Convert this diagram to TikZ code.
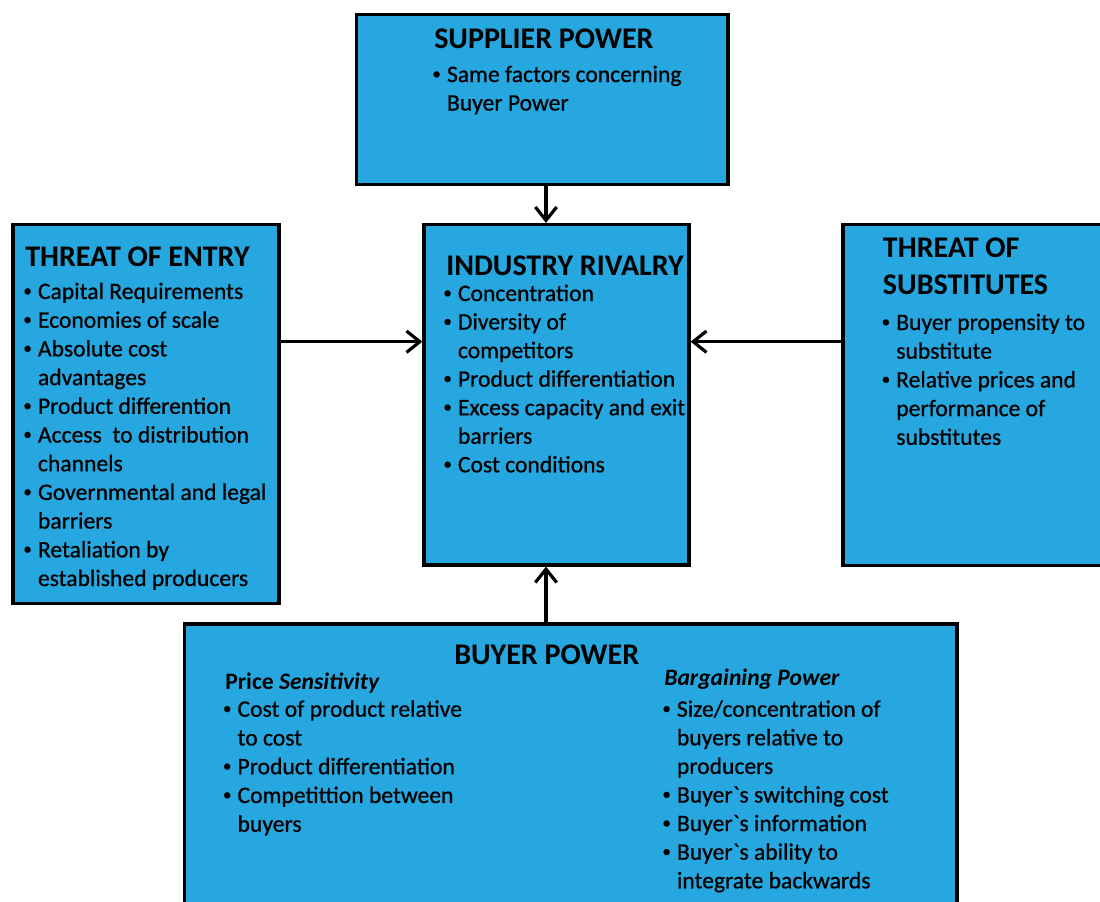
\documentclass[tikz,border=0pt]{standalone}
\usepackage{fontspec}
\usepackage{graphicx}
\setmainfont{Carlito}
\newfontfamily\bodyfont{Carlito}[FakeBold=0.7]
\newfontfamily\rawcarlito{Carlito}[Ligatures=TeXOff,FakeBold=0.7]
\usetikzlibrary{arrows.meta,fit}
\definecolor{boxblue}{RGB}{39,167,224}
\newcommand\bul{\llap{\raisebox{0.12em}{\scalebox{0.72}{•}}\hspace{4.6pt}}}
\newcommand\grv{{\rawcarlito\symbol{96}}}
\tikzset{
  box/.style={draw=black, fill=boxblue, line width=2.4pt, inner sep=0pt},
  ttl/.style={font=\fontsize{22.5pt}{27pt}\selectfont\bfseries, inner sep=0pt, anchor=base west},
  bt/.style={font=\fontsize{17.7pt}{21.5pt}\selectfont\bodyfont, inner sep=0pt, anchor=base west},
  sub/.style={font=\fontsize{17.7pt}{21.5pt}\selectfont\bfseries, inner sep=0pt, anchor=base west},
  arr/.style={line width=2.4pt, -{Straight Barb[length=10pt,width=16pt]}}
}
\begin{document}
\begin{tikzpicture}[x=0.75pt,y=-0.75pt]
\useasboundingbox (0,0) rectangle (1100,901);
\clip (0,0) rectangle (1100,901);
% boxes
\node[box, fit={(356.5,14.5) (728,184.5)}] (supplier) {};
\node[box, fit={(424,224.5) (689,565)}] (rivalry) {};
\node[box, fit={(13,224.5) (279,603.5)}] (entry) {};
\node[box, fit={(843,224.5) (1115,565.5)}] (subst) {};
\node[box, fit={(184.5,624) (957,930)}] (buyer) {};
% connectors
\coordinate (vx) at (546,0);
\coordinate (hy) at (0,341.7);
\draw[arr] (supplier.south -| vx) -- (rivalry.north -| vx);
\draw[arr] (buyer.north -| vx) -- (rivalry.south -| vx);
\draw[arr] (entry.east |- hy) -- (rivalry.west |- hy);
\draw[arr] (subst.west |- hy) -- (rivalry.east |- hy);
% supplier text
\node[ttl] (supT) at (434,48.3) {SUPPLIER POWER};
\node[bt] (sup1) at (446.7,82) {\bul Same factors concerning};
\node[bt] (sup2) at (446.7,110.5) {Buyer Power};
% entry text
\node[ttl] (entT) at (25,266.7) {THREAT OF ENTRY};
\foreach \t [count=\i] in {{\bul Capital Requirements},{\bul Economies of scale},{\bul Absolute cost},{advantages},{\bul Product differention},{\bul Access~ to distribution},{channels},{\bul Governmental and legal},{barriers},{\bul Retaliation by},{established producers}}
  {\node[bt] (ent-\i) at (37.7,{299+(\i-1)*28.7}) {\t};}
% rivalry text
\node[ttl] (rivT) at (446,275) {INDUSTRY RIVALRY};
\foreach \t [count=\i] in {{\bul Concentration},{\bul Diversity of},{competitors},{\bul Product differentiation},{\bul Excess capacity and exit},{barriers},{\bul Cost conditions}}
  {\node[bt] (riv-\i) at (457.7,{301+(\i-1)*28.55}) {\t};}
% substitutes text
\node[ttl] (subT1) at (882.7,257.7) {THREAT OF};
\node[ttl] (subT2) at (882.7,294) {SUBSTITUTES};
\foreach \t [count=\i] in {{\bul Buyer propensity to},{substitute},{\bul Relative prices and},{performance of},{substitutes}}
  {\node[bt] (sub-\i) at (896,{330+(\i-1)*28.7}) {\t};}
% buyer text
\node[ttl] (buyT) at (454,664) {BUYER POWER};
\node[sub] (buyL) at (225,689) {Price \textit{Sensitivity}};
\foreach \t [count=\i] in {{\bul Cost of product relative},{to cost},{\bul Product differentiation},{\bul Competittion between},{buyers}}
  {\node[bt] (bl-\i) at (237.3,{716.7+(\i-1)*28.75}) {\t};}
\node[sub] (buyR) at (664,685) {\itshape Bargaining Power};
\foreach \t [count=\i] in {{\bul Size/concentration of},{buyers relative to},{producers},{\bul Buyer\grv s switching cost},{\bul Buyer\grv s information},{\bul Buyer\grv s ability to},{integrate backwards}}
  {\node[bt] (br-\i) at (676.7,{716.7+(\i-1)*28.6}) {\t};}
\end{tikzpicture}
\end{document}
